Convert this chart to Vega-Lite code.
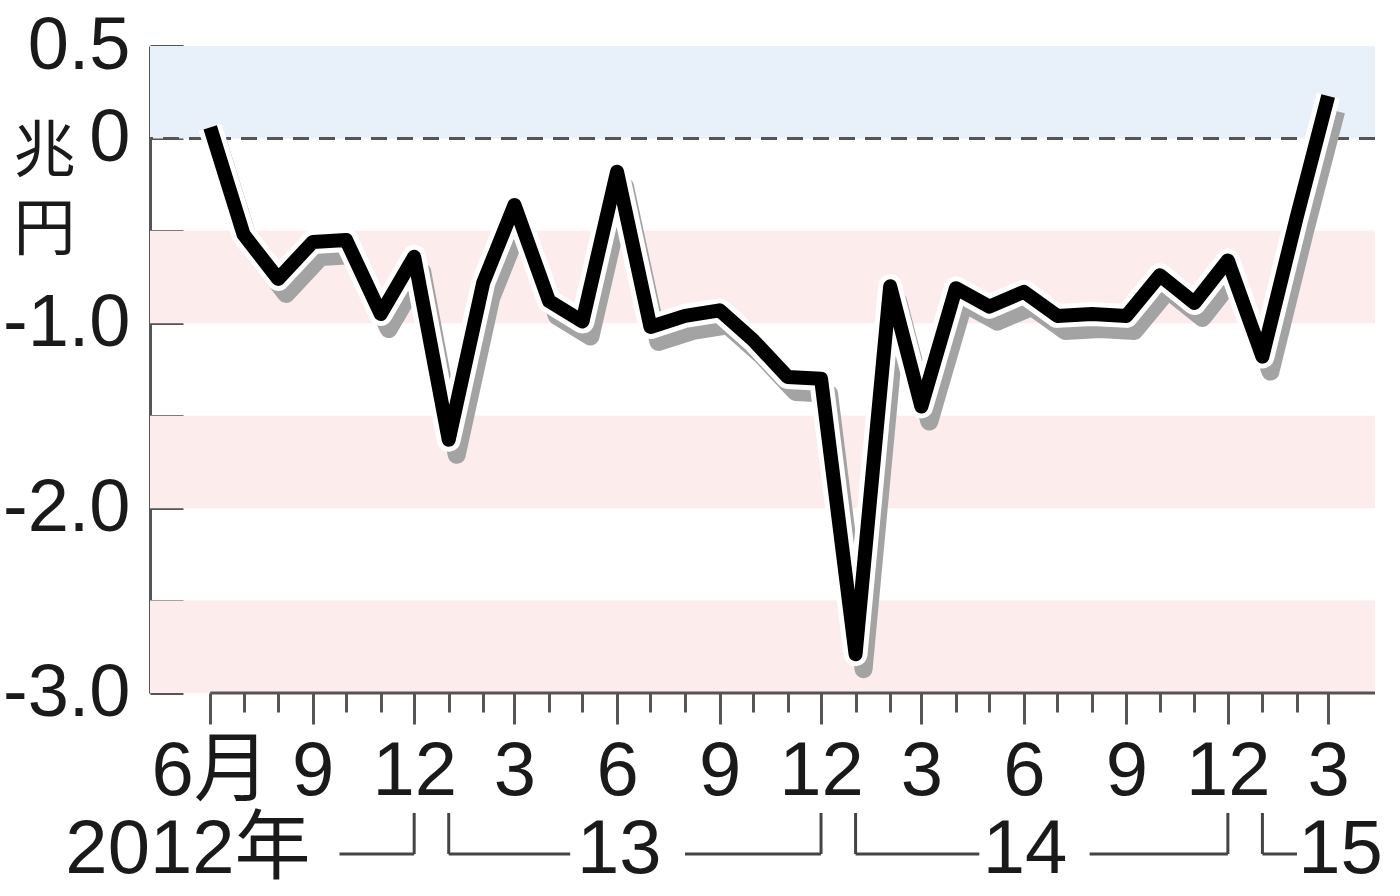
{
  "$schema": "https://vega.github.io/schema/vega-lite/v6.json",
  "width": 1225,
  "height": 647,
  "autosize": "none",
  "padding": {"left": 150, "top": 46, "right": 25, "bottom": 203},
  "background": "white",
  "config": {
    "view": {"stroke": null},
    "font": "Liberation Sans, Noto Sans CJK JP, sans-serif",
    "axis": {"grid": false}
  },
  "datasets": {
    "trade": [
      {"month": "2012-06-01", "value": 0.06},
      {"month": "2012-07-01", "value": -0.52},
      {"month": "2012-08-01", "value": -0.76},
      {"month": "2012-09-01", "value": -0.56},
      {"month": "2012-10-01", "value": -0.55},
      {"month": "2012-11-01", "value": -0.95},
      {"month": "2012-12-01", "value": -0.64},
      {"month": "2013-01-01", "value": -1.63},
      {"month": "2013-02-01", "value": -0.78},
      {"month": "2013-03-01", "value": -0.36},
      {"month": "2013-04-01", "value": -0.88},
      {"month": "2013-05-01", "value": -0.99},
      {"month": "2013-06-01", "value": -0.18},
      {"month": "2013-07-01", "value": -1.02},
      {"month": "2013-08-01", "value": -0.96},
      {"month": "2013-09-01", "value": -0.93},
      {"month": "2013-10-01", "value": -1.09},
      {"month": "2013-11-01", "value": -1.29},
      {"month": "2013-12-01", "value": -1.30},
      {"month": "2014-01-01", "value": -2.79},
      {"month": "2014-02-01", "value": -0.80},
      {"month": "2014-03-01", "value": -1.45},
      {"month": "2014-04-01", "value": -0.81},
      {"month": "2014-05-01", "value": -0.91},
      {"month": "2014-06-01", "value": -0.83},
      {"month": "2014-07-01", "value": -0.96},
      {"month": "2014-08-01", "value": -0.95},
      {"month": "2014-09-01", "value": -0.96},
      {"month": "2014-10-01", "value": -0.74},
      {"month": "2014-11-01", "value": -0.89},
      {"month": "2014-12-01", "value": -0.66},
      {"month": "2015-01-01", "value": -1.18},
      {"month": "2015-02-01", "value": -0.42},
      {"month": "2015-03-01", "value": 0.23}
    ],
    "bands": [
      {"top": 0.5, "bottom": 0, "sign": "plus"},
      {"top": -0.5, "bottom": -1.0, "sign": "minus"},
      {"top": -1.5, "bottom": -2.0, "sign": "minus"},
      {"top": -2.5, "bottom": -3.0, "sign": "minus"}
    ],
    "reference": [{"level": 0}],
    "axisStart": [{"start": "2012-06-01"}],
    "yearLabels": [
      {"at": "2012-05-12", "label": "2012年"},
      {"at": "2013-06-03", "label": "13"},
      {"at": "2014-06-02", "label": "14"},
      {"at": "2015-03-12", "label": "15"}
    ],
    "yearLines": [
      {"start": "2012-09-25", "end": "2012-12-01"},
      {"start": "2013-01-01", "end": "2013-04-20"},
      {"start": "2013-08-01", "end": "2013-12-01"},
      {"start": "2014-01-01", "end": "2014-04-22"},
      {"start": "2014-07-30", "end": "2014-12-01"},
      {"start": "2015-01-01", "end": "2015-02-01"}
    ],
    "yearTicks": [
      {"at": "2012-12-01"},
      {"at": "2013-01-01"},
      {"at": "2013-12-01"},
      {"at": "2014-01-01"},
      {"at": "2014-12-01"},
      {"at": "2015-01-01"}
    ]
  },
  "layer": [
    {
      "data": {"name": "bands"},
      "mark": {"type": "rect"},
      "encoding": {
        "y": {
          "field": "top",
          "type": "quantitative",
          "scale": {"domain": [-3, 0.5], "nice": false, "zero": false},
          "axis": {
            "values": [0.5, 0, -0.5, -1, -1.5, -2, -2.5, -3],
            "tickCount": 20,
            "labelExpr": "datum.value == 0.5 ? '0.5' : datum.value == 0 ? '0' : datum.value == -1 ? '-1.0' : datum.value == -2 ? '-2.0' : datum.value == -3 ? '-3.0' : ''",
            "domainColor": "#555",
            "domainWidth": 3,
            "tickColor": "#555",
            "tickWidth": 3,
            "tickSize": -33,
            "labelFontSize": 74,
            "labelColor": "#1a1a1a",
            "labelPadding": 53,
            "labelFlush": false,
            "labelOverlap": false,
            "title": ["兆", "円"],
            "titleFont": "Noto Sans CJK JP",
            "titleFontSize": 62,
            "titleFontWeight": "normal",
            "titleColor": "#1a1a1a",
            "titleAngle": 0,
            "titleAlign": "center",
            "titleBaseline": "top",
            "titleLineHeight": 78,
            "titleX": -106,
            "titleY": 76
          }
        },
        "y2": {"field": "bottom"},
        "color": {
          "field": "sign",
          "type": "nominal",
          "scale": {"domain": ["plus", "minus"], "range": ["#e8f0fa", "#fcecec"]},
          "legend": null
        }
      }
    },
    {
      "data": {"name": "reference"},
      "mark": {"type": "rule", "color": "#555", "strokeWidth": 3, "strokeDash": [16, 10]},
      "encoding": {
        "y": {"field": "level", "type": "quantitative"}
      }
    },
    {
      "data": {"name": "axisStart"},
      "mark": {"type": "rule", "color": "#555", "strokeWidth": 3},
      "encoding": {
        "x": {"field": "start", "type": "temporal"},
        "x2": {"value": "width"},
        "y": {"datum": -3}
      }
    },
    {
      "data": {"name": "trade"},
      "layer": [
        {
          "mark": {"type": "line", "color": "#a3a3a3", "strokeWidth": 18, "strokeJoin": "round", "xOffset": 8, "yOffset": 15}
        },
        {
          "mark": {"type": "line", "color": "white", "strokeWidth": 24, "strokeJoin": "round"}
        },
        {
          "mark": {"type": "line", "color": "black", "strokeWidth": 14, "strokeJoin": "round"}
        }
      ],
      "encoding": {
        "x": {
          "field": "month",
          "type": "temporal",
          "scale": {
            "type": "utc",
            "domain": [
              {"year": 2012, "month": 4, "date": 8, "utc": true},
              {"year": 2015, "month": 4, "date": 12, "utc": true}
            ]
          },
          "axis": {
            "values": [
              {"year": 2012, "month": 6, "date": 1, "utc": true},
              {"year": 2012, "month": 7, "date": 1, "utc": true},
              {"year": 2012, "month": 8, "date": 1, "utc": true},
              {"year": 2012, "month": 9, "date": 1, "utc": true},
              {"year": 2012, "month": 10, "date": 1, "utc": true},
              {"year": 2012, "month": 11, "date": 1, "utc": true},
              {"year": 2012, "month": 12, "date": 1, "utc": true},
              {"year": 2013, "month": 1, "date": 1, "utc": true},
              {"year": 2013, "month": 2, "date": 1, "utc": true},
              {"year": 2013, "month": 3, "date": 1, "utc": true},
              {"year": 2013, "month": 4, "date": 1, "utc": true},
              {"year": 2013, "month": 5, "date": 1, "utc": true},
              {"year": 2013, "month": 6, "date": 1, "utc": true},
              {"year": 2013, "month": 7, "date": 1, "utc": true},
              {"year": 2013, "month": 8, "date": 1, "utc": true},
              {"year": 2013, "month": 9, "date": 1, "utc": true},
              {"year": 2013, "month": 10, "date": 1, "utc": true},
              {"year": 2013, "month": 11, "date": 1, "utc": true},
              {"year": 2013, "month": 12, "date": 1, "utc": true},
              {"year": 2014, "month": 1, "date": 1, "utc": true},
              {"year": 2014, "month": 2, "date": 1, "utc": true},
              {"year": 2014, "month": 3, "date": 1, "utc": true},
              {"year": 2014, "month": 4, "date": 1, "utc": true},
              {"year": 2014, "month": 5, "date": 1, "utc": true},
              {"year": 2014, "month": 6, "date": 1, "utc": true},
              {"year": 2014, "month": 7, "date": 1, "utc": true},
              {"year": 2014, "month": 8, "date": 1, "utc": true},
              {"year": 2014, "month": 9, "date": 1, "utc": true},
              {"year": 2014, "month": 10, "date": 1, "utc": true},
              {"year": 2014, "month": 11, "date": 1, "utc": true},
              {"year": 2014, "month": 12, "date": 1, "utc": true},
              {"year": 2015, "month": 1, "date": 1, "utc": true},
              {"year": 2015, "month": 2, "date": 1, "utc": true},
              {"year": 2015, "month": 3, "date": 1, "utc": true}
            ],
            "tickCount": 60,
            "labelExpr": "utcmonth(datum.value) % 3 == 2 ? (utcyear(datum.value) == 2012 && utcmonth(datum.value) == 5 ? '6月' : '' + (utcmonth(datum.value) + 1)) : ''",
            "domain": false,
            "tickColor": "#555",
            "tickWidth": 3,
            "tickSize": {"condition": {"test": "utcmonth(datum.value) % 3 == 2", "value": 31}, "value": 19},
            "labelFontSize": 76,
            "labelColor": "#1a1a1a",
            "labelPadding": 10,
            "labelAngle": 0,
            "labelBaseline": "top",
            "labelFlush": false,
            "labelOverlap": false,
            "title": null
          }
        },
        "y": {"field": "value", "type": "quantitative"}
      }
    },
    {
      "data": {"name": "yearLines"},
      "mark": {"type": "rule", "color": "#444", "strokeWidth": 3},
      "encoding": {
        "x": {"field": "start", "type": "temporal"},
        "x2": {"field": "end"},
        "y": {"datum": -3.871}
      }
    },
    {
      "data": {"name": "yearTicks"},
      "mark": {"type": "rule", "color": "#444", "strokeWidth": 3},
      "encoding": {
        "x": {"field": "at", "type": "temporal"},
        "y": {"datum": -3.649},
        "y2": {"datum": -3.871}
      }
    },
    {
      "data": {"name": "yearLabels"},
      "mark": {"type": "text", "fontSize": 76, "color": "#1a1a1a", "align": "center", "baseline": "middle"},
      "encoding": {
        "x": {"field": "at", "type": "temporal"},
        "y": {"datum": -3.849},
        "text": {"field": "label"}
      }
    }
  ]
}
